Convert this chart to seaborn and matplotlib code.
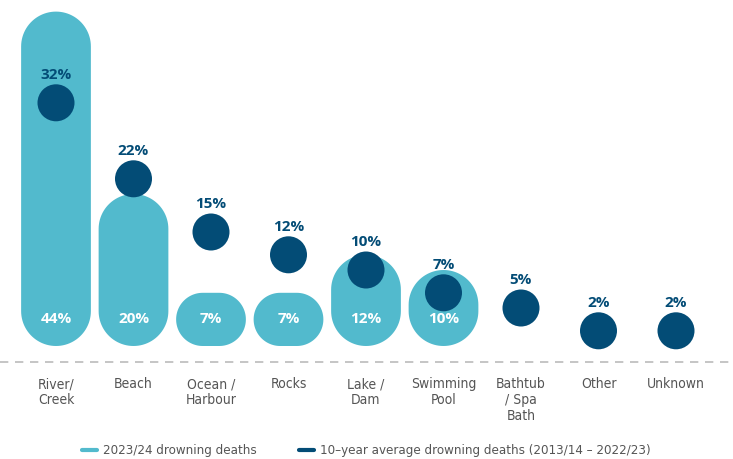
import numpy as np
import pandas as pd
import matplotlib
matplotlib.use("Agg")
import matplotlib.pyplot as plt
import seaborn as sns
from matplotlib.patches import Polygon
from matplotlib.lines import Line2D

# ---------------- data ----------------
categories = ["River/\nCreek", "Beach", "Ocean /\nHarbour", "Rocks", "Lake /\nDam",
              "Swimming\nPool", "Bathtub\n/ Spa\nBath", "Other", "Unknown"]
current_pct = [44, 20, 7, 7, 12, 10, 0, 0, 0]          # 2023/24
average_pct = [32, 22, 15, 12, 10, 7, 5, 2, 2]         # 10-year average
current_labels = ["44%", "20%", "7%", "7%", "12%", "10%", "", "", ""]
average_labels = ["32%", "22%", "15%", "12%", "10%", "7%", "5%", "2%", "2%"]
legend_labels = ["2023/24 drowning deaths",
                 "10\u2013year average drowning deaths (2013/14 \u2013 2022/23)"]

TEAL = "#52BACD"
NAVY = "#034C76"
GREY = "#555555"

sns.set_theme(style="white")
plt.rcParams['font.family'] = ['Open Sans', 'DejaVu Sans']

df = pd.DataFrame({"category": categories, "current": current_pct, "average": average_pct})

fig = plt.figure(figsize=(7.33, 4.59), dpi=100)
ax = fig.add_axes([0, 97 / 459, 1, 362 / 459])

sns.barplot(data=df, x="category", y="current", color=TEAL, saturation=1,
            width=0.9, ax=ax, order=categories)

ax.set_xlim(-56 / 77.5, 8 + 57 / 77.5)
ax.set_ylim(-16 / 7.6, 346 / 7.6)

# pixel scales
p0 = ax.transData.transform((0, 0))
p1 = ax.transData.transform((1, 1))
sx = p1[0] - p0[0]
sy = p1[1] - p0[1]

# replace bars with pill shapes
for p in list(ax.patches):
    x0, y0, w, h = p.get_x(), p.get_y(), p.get_width(), p.get_height()
    p.remove()
    if h <= 0:
        continue
    r_px = min(w * sx, h * sy) / 2
    rx, ry = r_px / sx, r_px / sy
    x1, y1 = x0 + w, y0 + h
    t = np.linspace(0, np.pi / 2, 24)
    verts = []
    verts += list(zip(x1 - rx + rx * np.sin(t), y0 + ry - ry * np.cos(t)))
    verts += list(zip(x1 - rx + rx * np.cos(t), y1 - ry + ry * np.sin(t)))
    verts += list(zip(x0 + rx - rx * np.sin(t), y1 - ry + ry * np.cos(t)))
    verts += list(zip(x0 + rx - rx * np.cos(t), y0 + ry - ry * np.sin(t)))
    ax.add_patch(Polygon(verts, closed=True, facecolor=TEAL, edgecolor="none", zorder=2))

# dots
sns.scatterplot(data=df, x="category", y="average", s=710, color=NAVY,
                edgecolor="none", linewidth=0, ax=ax, zorder=3, legend=False)

# labels
for i, (c, a, cl, al) in enumerate(zip(current_pct, average_pct, current_labels, average_labels)):
    if cl:
        ax.text(i, 27 / 7.6, cl, ha="center", va="center", color="white",
                fontsize=11, fontweight="bold", zorder=4)
    ax.text(i, a + 28 / 7.6, al, ha="center", va="center", color=NAVY,
            fontsize=11, fontweight="bold", zorder=4)

# baseline dashed line
ax.axhline(ax.get_ylim()[0] + 0.05, color="#BBBBBB", lw=1.2, dashes=(5, 4), clip_on=False)

for s in ax.spines.values():
    s.set_visible(False)
ax.set_yticks([])
ax.set_xlabel("")
ax.set_ylabel("")
ax.set_xticks(range(len(categories)))
ax.set_xticklabels(categories, color=GREY, fontsize=10, fontstretch="condensed",
                   family=['DejaVu Sans'], linespacing=1.15)
ax.tick_params(axis="x", length=0, pad=11)

handles = [Line2D([], [], color=TEAL, lw=3, solid_capstyle="round"),
           Line2D([], [], color=NAVY, lw=3, solid_capstyle="round")]
fig.legend(handles, legend_labels, loc="center", bbox_to_anchor=(0.5, 0.018), ncol=2,
           frameon=False, handlelength=1.1, columnspacing=3.2, handletextpad=0.5,
           prop={"family": ['DejaVu Sans'], "stretch": "condensed", "size": 9.5},
           labelcolor=GREY)

fig.savefig("out.png", dpi=100)
